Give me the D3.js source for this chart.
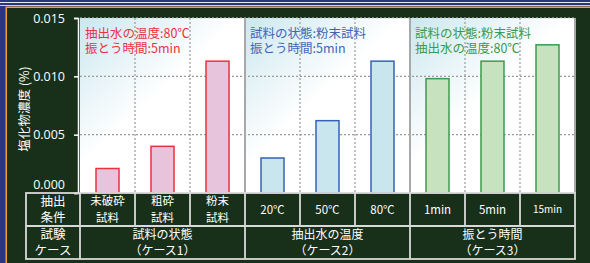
<!DOCTYPE html>
<html>
<head>
<meta charset="utf-8">
<script src="https://cdn.jsdelivr.net/npm/d3@7"></script>
<style>
  body { margin: 0; background: #2c3584; }
  svg { display: block; font-family: "Noto Sans CJK JP", "Noto Sans", sans-serif; }
</style>
</head>
<body>
<svg id="chart" width="590" height="263"></svg>
<script>
// data
let categories = ['未破砕\n試料', '粗砕\n試料', '粉末\n試料', '20℃', '50℃', '80℃', '1min', '5min', '15min']
let values = [0.0021, 0.0040, 0.0113, 0.0030, 0.0062, 0.0113, 0.0098, 0.0113, 0.0127]
let groupOf = [0, 0, 0, 1, 1, 1, 2, 2, 2]
let groupNames = ['試料の状態\n（ケース1）', '抽出水の温度\n（ケース2）', '振とう時間\n（ケース3）']
let groupNotes = [
    ['抽出水の温度:80℃', '振とう時間:5min'],
    ['試料の状態:粉末試料', '振とう時間:5min'],
    ['試料の状態:粉末試料', '抽出水の温度:80℃']
]
let yTicks = [0, 0.005, 0.010, 0.015]

function main() {
    let svg = d3.select('#chart'),
        left = 80, right = 575, top = 18, base = 193,
        rowH = 33

    let fills = ['#e8c4dc', '#c9e6ee', '#c6e2be'],
        strokes = ['#e8333d', '#3563b4', '#3e9a4e'],
        noteColors = ['#e8333d', '#3a68b6', '#3a9a4c']

    // frame
    svg.append('rect').attr('width', 590).attr('height', 263).attr('fill', '#2c3584')
    svg.append('rect').attr('x', 0).attr('y', 2).attr('width', 590).attr('height', 1).attr('fill', '#e8eaf4')
    svg.append('rect').attr('x', 0).attr('y', 5).attr('width', 590).attr('height', 1).attr('fill', '#c9cde6')
    svg.append('rect').attr('x', 5.5).attr('y', 6.5).attr('width', 590).attr('height', 263).attr('fill', '#f0a21e')
    svg.append('rect').attr('x', 7).attr('y', 8).attr('width', 590).attr('height', 263).attr('fill', '#18301a')

    let xScale = d3.scaleBand().domain(d3.range(categories.length)).range([left, right]).padding(0)
    let yScale = d3.scaleLinear().domain([0, 0.015]).range([base, top])
    let bw = xScale.bandwidth(), barW = 23

    let defs = svg.append('defs')
    let grad = defs.append('linearGradient').attr('id', 'bg')
        .attr('x1', 0).attr('y1', 0).attr('x2', 0.7).attr('y2', 0.8)
    grad.append('stop').attr('offset', 0).attr('stop-color', '#cbe7ef')
    grad.append('stop').attr('offset', 0.6).attr('stop-color', '#ffffff')
    grad.append('stop').attr('offset', 1).attr('stop-color', '#ffffff')

    // plot background per group
    d3.range(3).forEach(g => {
        svg.append('rect')
            .attr('x', xScale(g * 3)).attr('y', top)
            .attr('width', bw * 3).attr('height', base - top)
            .attr('fill', 'url(#bg)')
    })

    // grid
    yTicks.slice(1, 3).forEach(t => {
        svg.append('line').attr('x1', left).attr('x2', right)
            .attr('y1', yScale(t)).attr('y2', yScale(t))
            .attr('stroke', '#9a9a9a').attr('stroke-width', 1.2).attr('stroke-dasharray', '2,2')
    })
    svg.append('line').attr('x1', left).attr('x2', right)
        .attr('y1', top).attr('y2', top)
        .attr('stroke', '#c8c8c8').attr('stroke-width', 1).attr('stroke-dasharray', '2,2')
    d3.range(1, categories.length + 1).forEach(i => {
        let x = left + i * bw
        let solid = i % 3 === 0
        svg.append('line').attr('x1', x).attr('x2', x).attr('y1', top).attr('y2', base)
            .attr('stroke', solid ? '#a8a8a8' : '#9a9a9a')
            .attr('stroke-width', solid ? 2 : 1.2)
            .attr('stroke-dasharray', solid ? null : '2,2')
    })

    // bars
    svg.selectAll('.bar')
        .data(values)
        .enter()
        .append('rect')
        .attr('class', 'bar')
        .attr('x', (d, i) => xScale(i) + (bw - barW) / 2)
        .attr('y', d => yScale(d))
        .attr('width', barW)
        .attr('height', d => base - yScale(d))
        .attr('fill', (d, i) => fills[groupOf[i]])
        .attr('stroke', (d, i) => strokes[groupOf[i]])
        .attr('stroke-width', 1.5)

    // notes
    groupNotes.forEach((lines, g) => {
        lines.forEach((t, j) => {
            svg.append('text')
                .attr('x', xScale(g * 3) + 5).attr('y', top + 19.5 + j * 15.5)
                .attr('fill', noteColors[g]).attr('font-size', 12.5)
                .text(t)
        })
    })

    // y axis
    let yAxis = svg.append('g')
        .attr('transform', 'translate(' + (left - 2) + ',0)')
        .call(d3.axisLeft(yScale).tickValues(yTicks).tickFormat(d3.format('.3f')).tickSize(4).tickPadding(9))
    yAxis.select('.domain').attr('stroke', '#ffffff').attr('stroke-width', 1.5)
    yAxis.selectAll('.tick line').attr('stroke', '#ffffff').attr('stroke-width', 1.5)
    yAxis.selectAll('.tick text').attr('fill', '#ffffff').attr('font-size', 12.5)
        .attr('font-family', '"Open Sans", "Noto Sans", sans-serif')
    yAxis.selectAll('.tick').filter(d => d === 0).select('text').attr('dy', '-0.4em')

    svg.append('text')
        .attr('transform', 'translate(29,' + 109 + ') rotate(-90)')
        .attr('text-anchor', 'middle')
        .attr('fill', '#ffffff').attr('font-size', 12.5)
        .text('塩化物濃度 (%)')

    // table
    let tbl = svg.append('g')
    let lineColor = '#d9d9d9'
    function cellText(x, y, txt, size) {
        let parts = txt.split('\n')
        parts.forEach((p, k) => {
            tbl.append('text').attr('text-anchor', 'middle')
                .attr('fill', '#ffffff').attr('font-size', size)
                .attr('x', x)
                .attr('y', y + (k - (parts.length - 1) / 2) * 16.5 + size * 0.36)
                .text(p)
        })
    }
    let tLeft = 26
    tbl.append('rect').attr('x', tLeft).attr('y', base).attr('width', right - tLeft).attr('height', rowH * 2)
        .attr('fill', 'none').attr('stroke', lineColor).attr('stroke-width', 1.8)
    tbl.append('line').attr('x1', tLeft).attr('x2', right).attr('y1', base + rowH).attr('y2', base + rowH)
        .attr('stroke', lineColor).attr('stroke-width', 1.8)
    tbl.append('line').attr('x1', left).attr('x2', left).attr('y1', base).attr('y2', base + rowH * 2)
        .attr('stroke', lineColor).attr('stroke-width', 1.8)
    d3.range(1, categories.length).forEach(i => {
        let x = left + i * bw
        tbl.append('line').attr('x1', x).attr('x2', x)
            .attr('y1', base).attr('y2', base + (i % 3 === 0 ? rowH * 2 : rowH))
            .attr('stroke', lineColor).attr('stroke-width', 1.8)
    })
    cellText((tLeft + left) / 2, base + rowH / 2, '抽出\n条件', 12.5)
    cellText((tLeft + left) / 2, base + rowH * 1.5, '試験\nケース', 12.5)
    categories.forEach((c, i) => {
        let size = c === '15min' ? 10 : 11.5
        cellText(xScale(i) + bw / 2, base + rowH / 2, c, size)
    })
    groupNames.forEach((g, k) => {
        cellText(xScale(k * 3) + bw * 1.5, base + rowH * 1.5, g, 12)
    })
}

main()
</script>
</body>
</html>
